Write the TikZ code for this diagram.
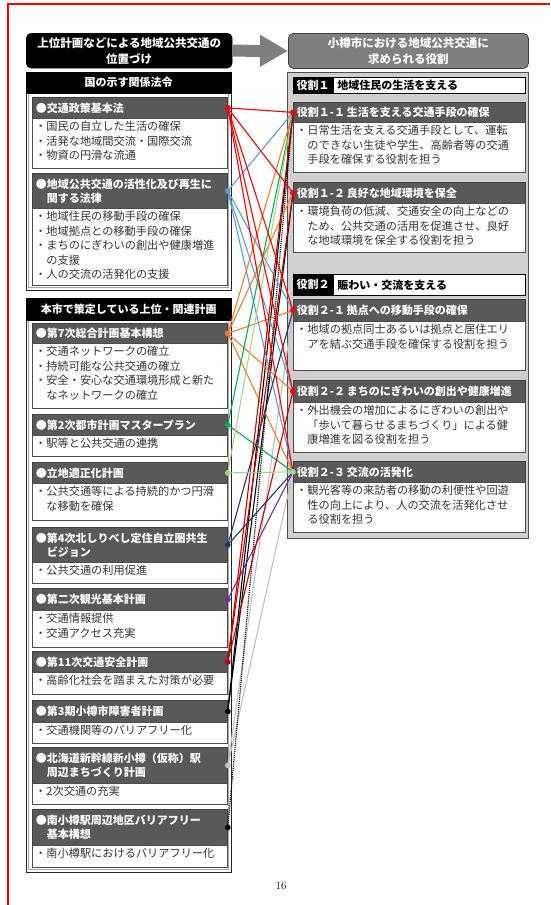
\documentclass[tikz,border=0pt]{standalone}
\usepackage{fontspec}
\newfontfamily\jp{Noto Sans CJK JP}
\usetikzlibrary{arrows.meta}
\definecolor{hdgray}{HTML}{595959}
\definecolor{panelgray}{HTML}{D0CECE}
\definecolor{rhgray}{HTML}{7F7F7F}
\definecolor{txtc}{HTML}{333333}
\definecolor{cred}{HTML}{FF0000}
\definecolor{cblue}{HTML}{5B9BD5}
\definecolor{corange}{HTML}{ED7D31}
\definecolor{cgreen}{HTML}{00B050}
\definecolor{clgreen}{HTML}{A9D18E}
\definecolor{cnavy}{HTML}{1F3864}
\definecolor{cpurple}{HTML}{7030A0}
\definecolor{cdred}{HTML}{C00000}
\definecolor{cgray}{HTML}{BFBFBF}
\newcommand\entry[8]{%
  \node[hbox, minimum width={#3-#2}, minimum height={#5-#4}, text width={#3-#2-7}] (#1) at (#2,#4) {#7};
  \node[bbox, minimum width={#3-#2}, minimum height={#6-#5}] (#1b) at (#2,#5) {};
  \node[btext] (#1t) at (#2+1,#5+1) {#8};
}
\begin{document}
\begin{tikzpicture}[x=1pt,y=-1pt,
  hbox/.style={draw=black!75, line width=0.8pt, fill=hdgray, anchor=north west, inner xsep=3.5pt, inner ysep=0pt,
    text=white, font=\jp\bfseries\fontsize{11}{14}\selectfont, align=left},
  bbox/.style={draw=black!70, line width=0.8pt, fill=white, anchor=north west, inner sep=0pt},
  btext/.style={anchor=north west, inner sep=2pt, text=txtc, font=\jp\fontsize{11.2}{14.5}\selectfont, align=left},
  outer/.style={draw=black!85, line width=0.8pt, fill=white, anchor=north west, inner sep=0pt},
  innerframe/.style={draw=black!35, line width=1.2pt},
  phead/.style={fill=black, draw=black, anchor=north west, inner sep=0pt, text=white,
    font=\jp\bfseries\fontsize{11}{14}\selectfont},
  tophead/.style={anchor=north west, rounded corners=5pt, inner sep=0pt, text=white, align=center,
    font=\jp\bfseries\fontsize{11.5}{16}\selectfont},
  con/.style={line width=1.1pt},
  dot/.style={radius=2.9pt}
]
\useasboundingbox (0,0) rectangle (550,905);
% page frame
\draw[cred, line width=2.6pt] (8,905) -- (8,4) -- (550,4);
% top headers
\node[tophead, fill=black, draw=black, minimum width=206, minimum height=35] (LH) at (26,33)
  {上位計画などによる地域公共交通の\\位置づけ};
\node[tophead, fill=rhgray, draw=black!75, line width=0.8pt, minimum width=240, minimum height=35] (RH) at (288,33)
  {小樽市における地域公共交通に\\求められる役割};
\draw[rhgray, line width=12pt, -{Triangle[length=28pt,width=30pt]}] (LH.east) -- (RH.west);

% left panel 1
\node[outer, minimum width=205, minimum height=218] (P1) at (26,72) {};
\draw[innerframe] (28.6,93) rectangle (228.6,287.4);
\node[phead, minimum width=205, minimum height=21] (P1h) at (26,72) {国の示す関係法令};
\entry{s1}{32}{227}{97}{118}{168}{●交通政策基本法}
  {・国民の自立した生活の確保\\・活発な地域間交流・国際交流\\・物資の円滑な流通}
\entry{s2}{32}{227}{173}{208}{285}{●地域公共交通の活性化及び再生に\\\hspace*{1em}関する法律}
  {・地域住民の移動手段の確保\\・地域拠点との移動手段の確保\\・まちのにぎわいの創出や健康増進\\\hspace*{1em}の支援\\・人の交流の活発化の支援}

% left panel 2
\node[outer, minimum width=205, minimum height=574] (P2) at (26,298) {};
\draw[innerframe] (28.6,320) rectangle (228.6,869.4);
\node[phead, minimum width=205, minimum height=22] (P2h) at (26,298) {本市で策定している上位・関連計画};
\entry{s3}{32}{227}{323}{343}{408}{●第7次総合計画基本構想}
  {・交通ネットワークの確立\\・持続可能な公共交通の確立\\・安全・安心な交通環境形成と新た\\\hspace*{1em}なネットワークの確立}
\entry{s4}{32}{227}{414}{435}{456}{●第2次都市計画マスタープラン}
  {・駅等と公共交通の連携}
\entry{s5}{32}{227}{462}{483}{520}{●立地適正化計画}
  {・公共交通等による持続的かつ円滑\\\hspace*{1em}な移動を確保}
\entry{s6}{32}{227}{527}{562}{583}{●第4次北しりべし定住自立圏共生\\\hspace*{1em}ビジョン}
  {・公共交通の利用促進}
\entry{s7}{32}{227}{588}{610}{647}{●第二次観光基本計画}
  {・交通情報提供\\・交通アクセス充実}
\entry{s8}{32}{227}{651}{672}{694}{●第11次交通安全計画}
  {・高齢化社会を踏まえた対策が必要}
\entry{s9}{32}{227}{700}{722}{743}{●第3期小樽市障害者計画}
  {・交通機関等のバリアフリー化}
\entry{s10}{32}{227}{747}{783}{804}{●北海道新幹線新小樽（仮称）駅\\\hspace*{1em}周辺まちづくり計画}
  {・2次交通の充実}
\entry{s11}{32}{227}{809}{845}{867}{●南小樽駅周辺地区バリアフリー\\\hspace*{1em}基本構想}
  {・南小樽駅におけるバリアフリー化}

% right panel
\node[draw=black!70, line width=0.9pt, fill=panelgray, anchor=north west, inner sep=0pt,
  minimum width=241, minimum height=466] (RP) at (287,72) {};
\node[phead, minimum width=40, minimum height=16] (r1l) at (293,77) {役割１};
\node[draw=black, line width=0.8pt, fill=white, anchor=north west, inner xsep=4pt, inner ysep=0pt,
  minimum width=192, minimum height=16, text width=184, align=left,
  font=\jp\bfseries\fontsize{11}{14}\selectfont] (r1r) at (333,77) {地域住民の生活を支える};
\entry{t11}{293}{525}{102}{122}{172}{役割１-１\,生活を支える交通手段の確保}
  {・日常生活を支える交通手段として、運転\\\hspace*{1em}のできない生徒や学生、高齢者等の交通\\\hspace*{1em}手段を確保する役割を担う}
\entry{t12}{293}{525}{182}{203}{252}{役割１-２\,良好な地域環境を保全}
  {・環境負荷の低減、交通安全の向上などの\\\hspace*{1em}ため、公共交通の活用を促進させ、良好\\\hspace*{1em}な地域環境を保全する役割を担う}
\node[phead, minimum width=40, minimum height=21] (r2l) at (293,274) {役割２};
\node[draw=black, line width=0.8pt, fill=white, anchor=north west, inner xsep=4pt, inner ysep=0pt,
  minimum width=192, minimum height=21, text width=184, align=left,
  font=\jp\bfseries\fontsize{11}{14}\selectfont] (r2r) at (333,274) {賑わい・交流を支える};
\entry{t21}{293}{525}{299}{321}{370}{役割２-１\,拠点への移動手段の確保}
  {・地域の拠点同士あるいは拠点と居住エリ\\\hspace*{1em}アを結ぶ交通手段を確保する役割を担う}
\entry{t22}{293}{525}{380}{402}{452}{役割２-２\,まちのにぎわいの創出や健康増進}
  {・外出機会の増加によるにぎわいの創出や\\\hspace*{1em}「歩いて暮らせるまちづくり」による健\\\hspace*{1em}康増進を図る役割を担う}
\entry{t23}{293}{525}{461}{482}{532}{役割２-３\,交流の活発化}
  {・観光客等の来訪者の移動の利便性や回遊\\\hspace*{1em}性の向上により、人の交流を活発化させ\\\hspace*{1em}る役割を担う}

% connectors
\draw[con, cgray] (s10.east) -- (t21.west);
\draw[con, cgray] (s10.east) -- (t23.west);
\draw[con, black, densely dotted, line width=1.2pt] (s11.east) -- (t11.west);
\draw[con, black] (s9.east) -- (t11.west);
\draw[con, black] (s9.east) -- (t12.west);
\draw[con, cblue] (s2.east) -- (t11.west);
\draw[con, cblue] (s2.east) -- (t21.west);
\draw[con, cblue] (s2.east) -- (t22.west);
\draw[con, cblue] (s2.east) -- (t23.west);
\draw[con, corange] (s3.east) -- (t11.west);
\draw[con, corange] (s3.east) -- (t12.west);
\draw[con, corange] (s3.east) -- (t21.west);
\draw[con, corange] (s3.east) -- (t22.west);
\draw[con, corange] (s3.east) -- (t23.west);
\draw[con, cgreen] (s4.east) -- (t11.west);
\draw[con, cgreen] (s4.east) -- (t23.west);
\draw[con, clgreen] (s5.east) -- (t11.west);
\draw[con, cnavy] (s6.east) -- (t21.west);
\draw[con, cnavy] (s6.east) -- (t23.west);
\draw[con, cpurple] (s7.east) -- (t23.west);
\draw[con, cdred] (s8.east) -- (t11.west);
\draw[con, cdred] (s8.east) -- (t12.west);
\draw[con, cdred] (s8.east) -- (t22.west);
\draw[con, cred] (s1.east) -- (t11.west);
\draw[con, cred] (s1.east) -- (t12.west);
\draw[con, cred] (s1.east) -- (t21.west);
\draw[con, cred] (s1.east) -- (t22.west);
\draw[con, cred] (s1.east) -- (t23.west);
\draw[con, clgreen] (s5.east) -- (t23.west);

% dots
\fill[cred] (s1.east) circle[dot];
\fill[cblue] (s2.east) circle[dot];
\fill[corange] (s3.east) circle[dot];
\fill[cgreen] (s4.east) circle[dot];
\fill[clgreen] (s5.east) circle[dot];
\fill[cnavy] (s6.east) circle[dot];
\fill[cpurple] (s7.east) circle[dot];
\fill[cdred] (s8.east) circle[dot];
\fill[black] (s9.east) circle[dot];
\fill[cgray] (s10.east) circle[dot];
\fill[black] (s11.east) circle[dot];
\fill[cred] (t11.west) circle[dot];
\fill[cred] (t12.west) circle[dot];
\fill[cred] (t21.west) circle[dot];
\fill[cred] (t22.west) circle[dot];
\fill[clgreen] (t23.west) circle[dot];

% page number
\node[font=\fontsize{11}{13}\selectfont, inner sep=0pt] (pg) at (281,886) {16};
\end{tikzpicture}
\end{document}
